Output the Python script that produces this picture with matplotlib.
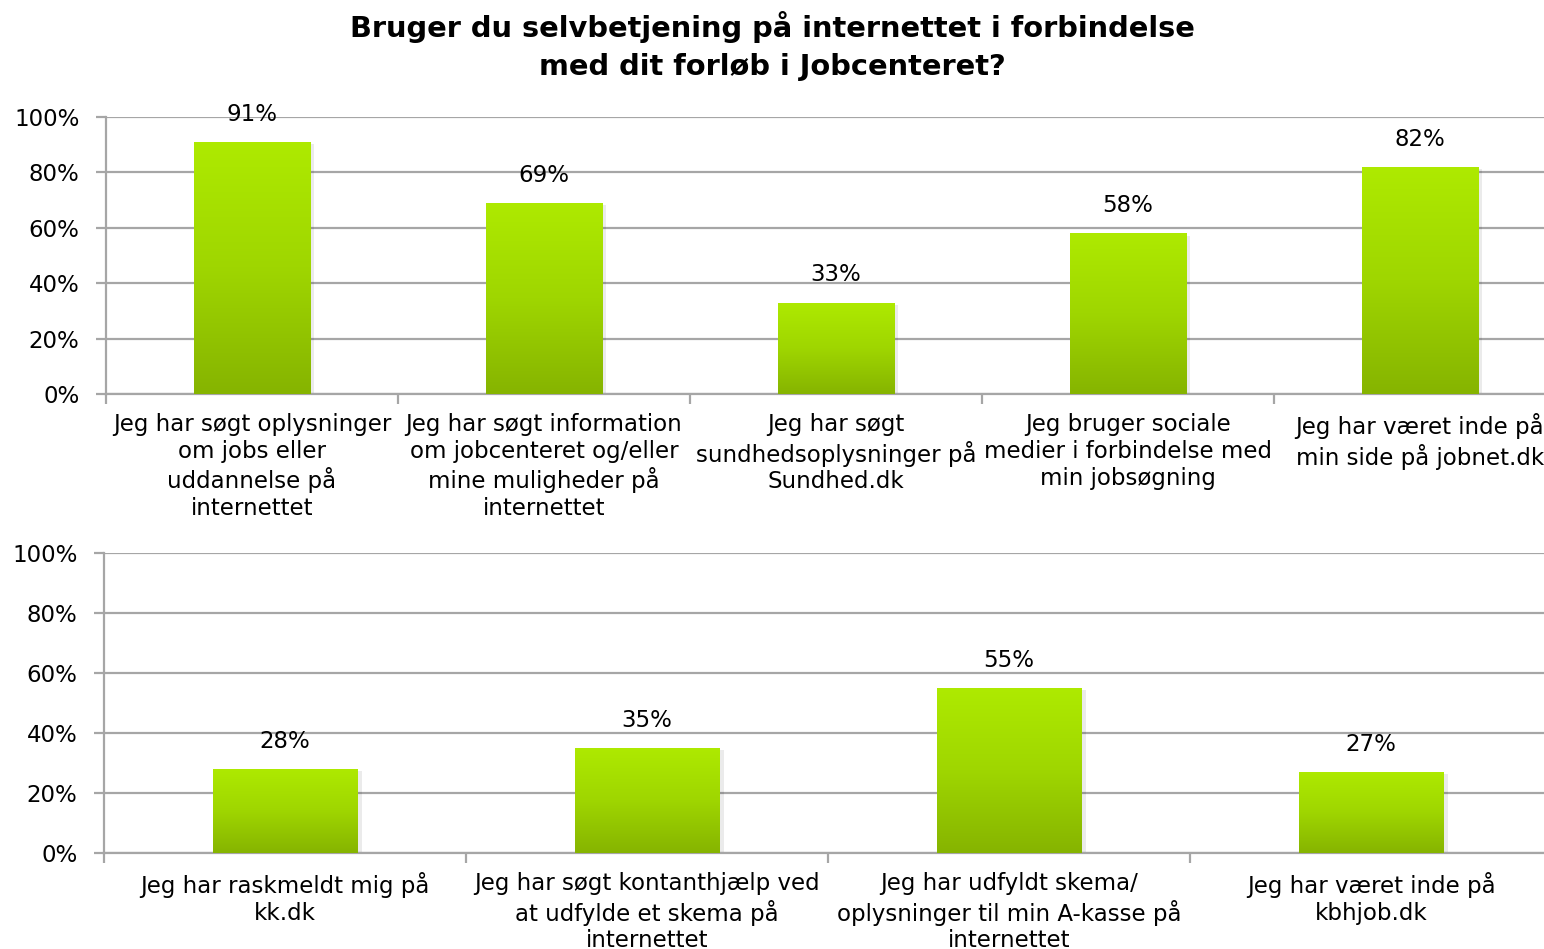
import matplotlib
matplotlib.use("Agg")
import matplotlib.pyplot as plt
import numpy as np
from matplotlib.colors import LinearSegmentedColormap

# data
title = "Bruger du selvbetjening på internettet i forbindelse\nmed dit forløb i Jobcenteret?"
top_labels = ["Jeg har søgt oplysninger\nom jobs eller\nuddannelse på\ninternettet",
              "Jeg har søgt information\nom jobcenteret og/eller\nmine muligheder på\ninternettet",
              "Jeg har søgt\nsundhedsoplysninger på\nSundhed.dk",
              "Jeg bruger sociale\nmedier i forbindelse med\nmin jobsøgning",
              "Jeg har været inde på\nmin side på jobnet.dk"]
top_values = [91, 69, 33, 58, 82]
bottom_labels = ["Jeg har raskmeldt mig på\nkk.dk",
                 "Jeg har søgt kontanthjælp ved\nat udfylde et skema på\ninternettet",
                 "Jeg har udfyldt skema/\noplysninger til min A-kasse på\ninternettet",
                 "Jeg har været inde på\nkbhjob.dk"]
bottom_values = [28, 35, 55, 27]
yticks = [0, 20, 40, 60, 80, 100]

plt.rcParams['font.family'] = ['DejaVu Sans']
grid_col = '#a6a6a6'
cmap = LinearSegmentedColormap.from_list('grn', ['#86b400', '#9fd600', '#aeea00'])
grad = np.linspace(0, 1, 256).reshape(-1, 1)

fig = plt.figure(figsize=(15.44, 9.49), dpi=100)
fig.suptitle(title, fontsize=20.8, fontweight='bold', y=0.988, linespacing=1.45)


def draw(ax, labels, values):
    n = len(values)
    x = np.arange(n)
    bars = ax.bar(x, values, width=0.4, color='none', edgecolor='none', zorder=3)
    for b, v in zip(bars, values):
        x0 = b.get_x()
        x1 = x0 + b.get_width()
        # soft shadow
        ax.bar(b.get_x() + b.get_width() / 2 + 0.012, v, width=b.get_width(),
               bottom=-0.8, color='#000000', alpha=0.08, zorder=2)
        im = ax.imshow(grad, extent=[x0, x1, 0, v], origin='lower', aspect='auto',
                       cmap=cmap, zorder=3)
        im.set_clip_path(b)
        ax.annotate('%d%%' % v, xy=(b.get_x() + b.get_width() / 2, v),
                    xytext=(0, 20), textcoords='offset points',
                    ha='center', va='center', fontsize=16.5)
    ax.set_xlim(-0.5, n - 0.5)
    ax.set_ylim(0, 100)
    ax.set_yticks(yticks)
    ax.set_yticklabels(['%d%%' % t for t in yticks], fontsize=16.5)
    ax.yaxis.grid(True, color=grid_col, linewidth=1.6, zorder=0)
    ax.set_axisbelow(True)
    ax.set_xticks(x)
    ax.set_xticklabels(labels, fontsize=16.5, linespacing=1.2, va='top')
    ax.set_xticks(np.arange(n + 1) - 0.5, minor=True)
    ax.tick_params(axis='x', which='major', length=0, pad=14)
    ax.tick_params(axis='x', which='minor', length=7, color=grid_col, width=1.6)
    ax.tick_params(axis='y', length=7, color=grid_col, width=1.6, pad=12)
    for s in ['top', 'right']:
        ax.spines[s].set_visible(False)
    for s in ['left', 'bottom']:
        ax.spines[s].set_color(grid_col)
        ax.spines[s].set_linewidth(1.6)


ax1 = fig.add_axes([106 / 1544, 1 - 394 / 949, 1460 / 1544, 277 / 949])
draw(ax1, top_labels, top_values)
ax2 = fig.add_axes([104 / 1544, 1 - 853 / 949, 1448 / 1544, 300 / 949])
draw(ax2, bottom_labels, bottom_values)

fig.savefig("out.png", dpi=100)
